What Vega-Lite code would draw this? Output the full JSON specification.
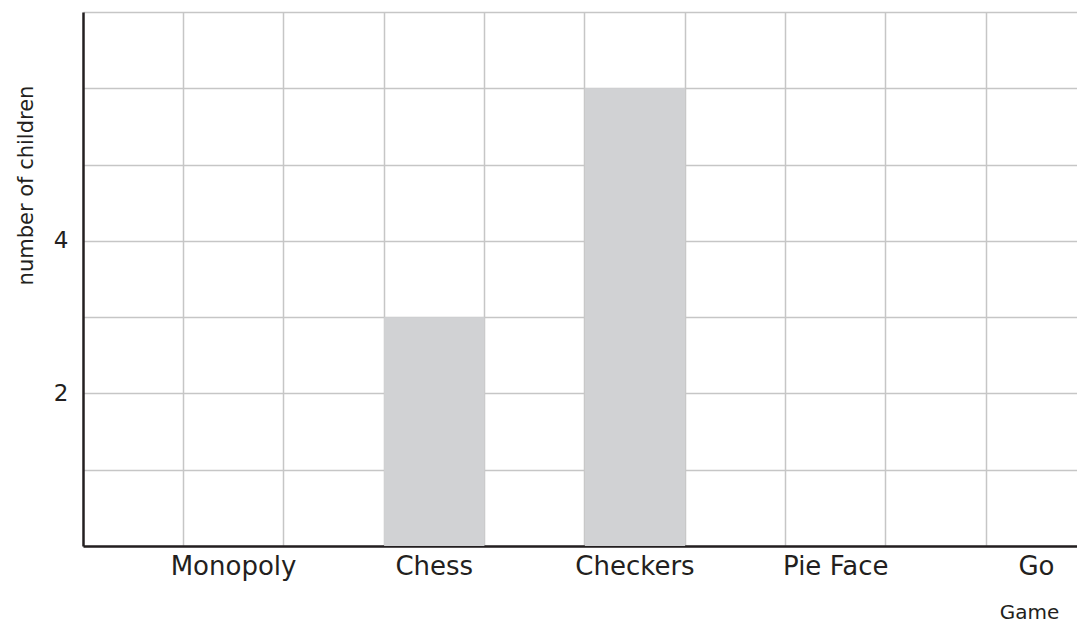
{
  "$schema": "https://vega.github.io/schema/vega-lite/v6.json",
  "width": 994,
  "height": 534,
  "autosize": "none",
  "padding": {"left": 83, "top": 12, "right": 0, "bottom": 78},
  "background": "white",
  "config": {"view": {"stroke": null}, "font": "DejaVu Sans"},
  "data": {
    "values": [
      {"game": "Monopoly", "children": 0},
      {"game": "Chess", "children": 3},
      {"game": "Checkers", "children": 6},
      {"game": "Pie Face", "children": 0},
      {"game": "Go", "children": 0}
    ]
  },
  "encoding": {
    "y": {
      "field": "children",
      "type": "quantitative",
      "scale": {"domain": [0, 7], "nice": false, "zero": true},
      "axis": {
        "title": "number of children",
        "values": [0, 1, 2, 3, 4, 5, 6, 7],
        "labelExpr": "datum.value == 2 || datum.value == 4 ? datum.label : ''",
        "grid": true,
        "gridColor": "#c6c6c6",
        "gridWidth": 1.5,
        "ticks": false,
        "domainColor": "#231f20",
        "domainWidth": 2.5,
        "labelFontSize": 23,
        "labelColor": "#231f20",
        "labelPadding": 15,
        "titleFontSize": 21,
        "titleFontWeight": "normal",
        "titleColor": "#231f20",
        "titleAngle": 270,
        "titleX": -51,
        "titleY": 173,
        "titleAlign": "center",
        "titleBaseline": "alphabetic"
      }
    }
  },
  "layer": [
    {
      "mark": {"type": "bar", "color": "#d1d2d4"},
      "encoding": {
        "x": {
          "field": "game",
          "type": "nominal",
          "scale": {"domain": ["Monopoly", "Chess", "Checkers", "Pie Face", "Go"], "range": [0, 1104], "paddingInner": 0.5, "paddingOuter": 0.5},
          "axis": {
            "orient": "bottom",
            "bandPosition": 0,
            "grid": true,
            "gridColor": "#c6c6c6",
            "gridWidth": 1.5,
            "labels": false,
            "ticks": false,
            "domain": true,
            "domainColor": "#231f20",
            "domainWidth": 2.5,
            "title": null
          }
        }
      }
    },
    {
      "mark": {"type": "bar", "opacity": 0},
      "encoding": {
        "x": {
          "field": "game",
          "type": "nominal",
          "scale": {"domain": ["Monopoly", "Chess", "Checkers", "Pie Face", "Go"], "range": [0, 1104], "paddingInner": 0.5, "paddingOuter": 0.5},
          "axis": {
            "orient": "bottom",
            "bandPosition": 1,
            "grid": true,
            "gridColor": "#c6c6c6",
            "gridWidth": 1.5,
            "labels": false,
            "ticks": false,
            "domain": false,
            "title": null
          }
        }
      }
    },
    {
      "mark": {"type": "bar", "opacity": 0},
      "encoding": {
        "x": {
          "field": "game",
          "type": "nominal",
          "scale": {"domain": ["Monopoly", "Chess", "Checkers", "Pie Face", "Go"], "range": [0, 1104], "paddingInner": 0.5, "paddingOuter": 0.5},
          "axis": {
            "orient": "bottom",
            "grid": false,
            "ticks": false,
            "domain": false,
            "labelAngle": 0,
            "labelFontSize": 26,
            "labelColor": "#231f20",
            "labelPadding": 7,
            "title": "Game",
            "titleFontSize": 20,
            "titleFontWeight": "normal",
            "titleColor": "#231f20",
            "titleX": 946,
            "titleY": 72,
            "titleAlign": "center",
            "titleBaseline": "alphabetic"
          }
        }
      }
    }
  ],
  "resolve": {"axis": {"x": "independent"}}
}
